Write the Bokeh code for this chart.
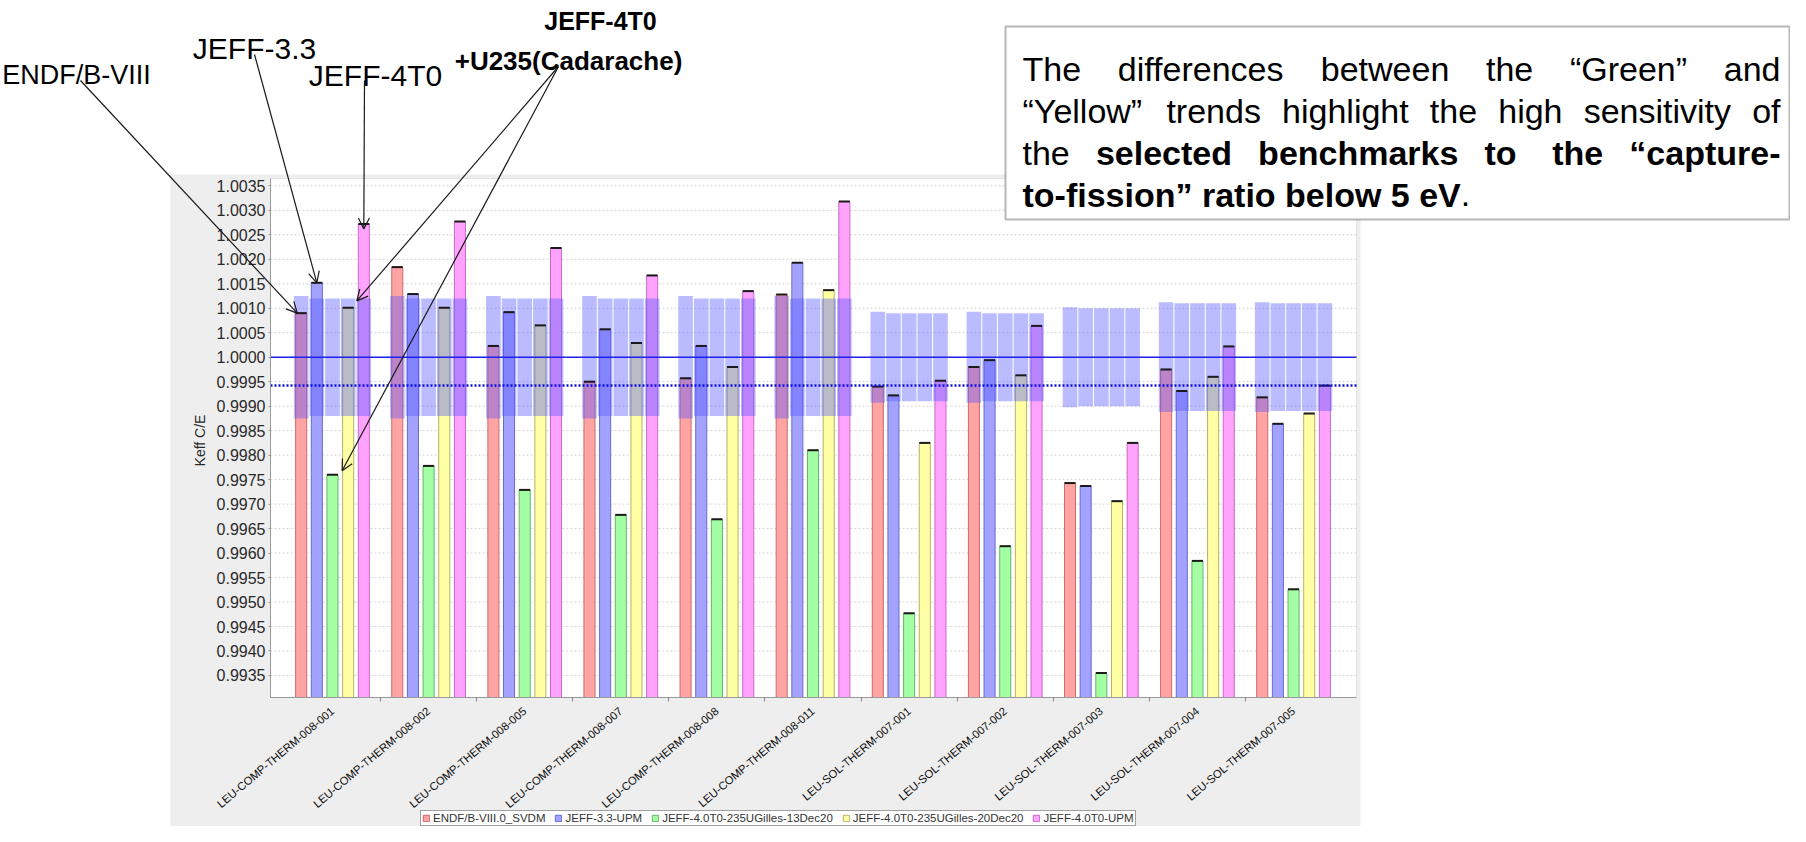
import math
import numpy as np
from bokeh.plotting import figure
from bokeh.models import (Range1d, FixedTicker, NumeralTickFormatter, Legend, LegendItem,
                          BoxAnnotation, Label, Arrow, OpenHead, ColumnDataSource)
from bokeh.embed import file_html
from bokeh.resources import INLINE

# ---------------- data ----------------
categories = ["LEU-COMP-THERM-008-001", "LEU-COMP-THERM-008-002", "LEU-COMP-THERM-008-005",
              "LEU-COMP-THERM-008-007", "LEU-COMP-THERM-008-008", "LEU-COMP-THERM-008-011",
              "LEU-SOL-THERM-007-001", "LEU-SOL-THERM-007-002", "LEU-SOL-THERM-007-003",
              "LEU-SOL-THERM-007-004", "LEU-SOL-THERM-007-005"]
series_names = ["ENDF/B-VIII.0_SVDM", "JEFF-3.3-UPM", "JEFF-4.0T0-235UGilles-13Dec20",
                "JEFF-4.0T0-235UGilles-20Dec20", "JEFF-4.0T0-UPM"]
endf_b8 = [1.00090, 1.00184, 1.00023, 0.99950, 0.99957, 1.00128, 0.99940, 0.99980, 0.99743, 0.99975, 0.99918]
jeff33 = [1.00152, 1.00129, 1.00092, 1.00057, 1.00023, 1.00193, 0.99922, 0.99994, 0.99737, 0.99931, 0.99864]
jeff4_13dec = [0.99760, 0.99778, 0.99729, 0.99678, 0.99669, 0.99810, 0.99477, 0.99614, 0.99355, 0.99584, 0.99526]
jeff4_20dec = [1.00101, 1.00101, 1.00065, 1.00029, 0.99980, 1.00137, 0.99825, 0.99963, 0.99706, 0.99960, 0.99885]
jeff4_upm = [1.00272, 1.00277, 1.00223, 1.00167, 1.00135, 1.00318, 0.99952, 1.00064, 0.99825, 1.00022, 0.99942]
series_values = [endf_b8, jeff33, jeff4_13dec, jeff4_20dec, jeff4_upm]
# benchmark uncertainty bands (around C/E = 1)
unc_endf = [0.00125, 0.00125, 0.00125, 0.00125, 0.00125, 0.00125, 0.00093, 0.00093, 0.00102, 0.00112, 0.00112]
unc_other = [0.00120, 0.00120, 0.00120, 0.00120, 0.00120, 0.00120, 0.00090, 0.00090, 0.00100, 0.00110, 0.00110]
reference_ce = 1.0
mean_ce = 0.99942
y_ticks = [0.9935, 0.9940, 0.9945, 0.9950, 0.9955, 0.9960, 0.9965, 0.9970, 0.9975, 0.9980, 0.9985,
           0.9990, 0.9995, 1.0000, 1.0005, 1.0010, 1.0015, 1.0020, 1.0025, 1.0030, 1.0035]

# ---------------- layout / styles ----------------
fills = ["#FFA3A3", "#A3A3FF", "#A3FFA3", "#FFFFA3", "#FFA3FF"]
lines = ["#D06A6A", "#6A6AD0", "#6AB46A", "#B4B46A", "#C46AC4"]
FONT = "Liberation Sans"

W, H = 1790, 826
PL, PT, PR, PB = 270, 178, 1356, 697          # plot area in canvas pixels
XLO, XHI = -0.645, 10.655                      # category axis extent
YLO, YHI = 0.99305, 1.00365                    # value axis extent
sx = (XHI - XLO) / (PR - PL)
sy = (YHI - YLO) / (PB - PT)

p = figure(width=W, height=H, output_backend="svg", toolbar_location=None,
           x_range=Range1d(XLO - PL * sx, XHI + (W - PR) * sx),
           y_range=Range1d(YLO - (H - PB) * sy, YHI + PT * sy),
           min_border=0, min_border_left=0, min_border_right=0, min_border_top=0, min_border_bottom=0,
           background_fill_color="white", border_fill_color="white", outline_line_color=None)
p.grid.visible = False

def cbox(l, r, t, b, **kw):
    return BoxAnnotation(left=l, right=r, top=t, bottom=b, left_units="canvas", right_units="canvas",
                         top_units="canvas", bottom_units="canvas", **kw)

# grey chart panel and white plot area
p.add_layout(cbox(170, 1360, 174, H, fill_color="#EEEEEE", fill_alpha=1, line_color=None, level="image"))
p.add_layout(cbox(PL, PR, PT, PB, fill_color="white", fill_alpha=1, line_color="#B8B8B8",
                  line_width=1, level="image"))

# dotted horizontal grid lines
p.segment(x0=XLO, x1=XHI, y0=y_ticks, y1=y_ticks, line_color="#D4D4D4", line_width=1, line_dash="2 2")

pitch = 0.163
bar_w = 0.115
band_w = 0.152
idx = np.arange(len(categories))
renderers = []
xs_all = []
for k, vals in enumerate(series_values):
    xs = idx + (k - 2) * pitch
    xs_all.append(xs)
    src = ColumnDataSource(dict(x=xs, top=vals))
    r = p.vbar(x="x", top="top", bottom=YLO, width=bar_w, source=src,
               fill_color=fills[k], line_color=lines[k], line_width=1)
    renderers.append(r)

# uncertainty bands drawn over the bars
for k in range(5):
    unc = np.array(unc_endf if k == 0 else unc_other)
    xs = xs_all[k]
    p.quad(left=xs - band_w / 2, right=xs + band_w / 2, top=reference_ce + unc, bottom=reference_ce - unc,
           fill_color="#5555FF", fill_alpha=0.40, line_color=None)

# black caps on bar tops
for k, vals in enumerate(series_values):
    xs = xs_all[k]
    p.segment(x0=xs - bar_w / 2, x1=xs + bar_w / 2, y0=vals, y1=vals, line_color="#1A1A1A", line_width=2)

p.segment(x0=[XLO], x1=[XHI], y0=[reference_ce], y1=[reference_ce], line_color="#2020F0", line_width=1.5)
p.segment(x0=[XLO], x1=[XHI], y0=[mean_ce], y1=[mean_ce], line_color="#1010E0", line_width=2.5,
          line_dash="2 2")

# axes (fixed inside the full-canvas frame)
p.yaxis.fixed_location = XLO
p.yaxis.bounds = (YLO, YHI)
p.yaxis.ticker = FixedTicker(ticks=y_ticks)
p.yaxis.formatter = NumeralTickFormatter(format="0.0000")
p.yaxis.major_label_text_font = FONT
p.yaxis.major_label_text_font_size = "16px"
p.yaxis.major_label_text_color = "#2A2A2A"
p.yaxis.axis_line_color = "#999999"
p.yaxis.major_tick_line_color = "#999999"
p.yaxis.major_tick_out = 2
p.yaxis.major_tick_in = 0
p.yaxis.minor_tick_line_color = None
p.yaxis.major_label_standoff = 3

p.xaxis.fixed_location = YLO
p.xaxis.bounds = (XLO, XHI)
p.xaxis.ticker = FixedTicker(ticks=list(idx), minor_ticks=[i + 0.5 for i in range(len(categories) - 1)])
p.xaxis.major_label_overrides = {int(i): c for i, c in zip(idx, categories)}
p.xaxis.major_label_orientation = 0.70
p.xaxis.major_tick_line_color = None
p.xaxis.minor_tick_out = 4
p.xaxis.minor_tick_in = 0
p.xaxis.minor_tick_line_color = "#888888"
p.xaxis.axis_line_color = "#999999"
p.xaxis.major_label_text_font = FONT
p.xaxis.major_label_text_font_size = "11.3px"
p.xaxis.major_label_text_color = "#111111"
p.xaxis.major_label_standoff = 6

p.add_layout(Label(x=199, y=440, x_units="canvas", y_units="canvas", text="Keff C/E",
                   angle=math.pi / 2, text_font=FONT, text_font_size="14px", text_color="#2A2A2A",
                   text_align="center", text_baseline="middle"))

legend = Legend(items=[LegendItem(label=n, renderers=[r]) for n, r in zip(series_names, renderers)],
                orientation="horizontal", location=(420, 0), label_text_font=FONT,
                label_text_font_size="11.5px", label_text_color="#333333", glyph_width=8, glyph_height=8,
                label_height=9, label_standoff=3, spacing=9, padding=1, margin=0,
                border_line_color="#444444", background_fill_color="white", background_fill_alpha=1)
p.add_layout(legend, "center")

# ---------------- annotations ----------------
def lab(text, x, y, size, bold=False, align="center", level="annotation"):
    p.add_layout(Label(x=x, y=y, x_units="canvas", y_units="canvas", text=text,
                       text_font=FONT, text_font_size=size,
                       text_font_style="bold" if bold else "normal", text_color="black",
                       text_align=align, text_baseline="alphabetic", level=level))

lab("ENDF/B-VIII", 76, 74, "27px")
lab("JEFF-3.3", 254, 48, "30px")
lab("JEFF-4T0", 375, 75, "30px")
lab("JEFF-4T0", 600, 20, "25px", bold=True)
lab("+U235(Cadarache)", 568, 60, "26px", bold=True)

def arrow(xs, ys, xe, ye):
    p.add_layout(Arrow(end=OpenHead(size=11, line_width=1.2, line_color="#1A1A1A"),
                       x_start=xs, y_start=ys, start_units="canvas",
                       x_end=xe, y_end=ye, end_units="data",
                       line_color="#1A1A1A", line_width=1.2))

arrow(80, 80, xs_all[0][0] - 0.04, endf_b8[0])
arrow(254, 54, xs_all[1][0], jeff33[0])
arrow(364, 80, xs_all[4][0], jeff4_upm[0] - 0.0001)
arrow(558, 66, xs_all[3][0] + 0.09, jeff4_20dec[0] + 0.00014)
arrow(558, 66, xs_all[2][0] + 0.10, jeff4_13dec[0] + 0.00008)

# text box
p.add_layout(cbox(1005, 1789, 26, 219, fill_color="white", fill_alpha=1, line_color="#111111",
                  line_width=2, level="overlay"))

REG = {' ': 278, '“': 333, '”': 333, '-': 333, '.': 278, '5': 556,
       'a': 556, 'b': 556, 'c': 500, 'd': 556, 'e': 556, 'f': 278, 'g': 556, 'h': 556, 'i': 222,
       'k': 500, 'l': 222, 'm': 833, 'n': 556, 'o': 556, 'p': 556, 'r': 333, 's': 500, 't': 278,
       'u': 556, 'v': 500, 'w': 722, 'y': 500, 'T': 611, 'G': 778, 'Y': 667, 'V': 667}
BLD = {' ': 278, '“': 500, '”': 500, '-': 333, '.': 278, '5': 556,
       'a': 556, 'b': 611, 'c': 556, 'd': 611, 'e': 556, 'f': 333, 'g': 611, 'h': 611, 'i': 278,
       'k': 556, 'l': 278, 'm': 889, 'n': 611, 'o': 611, 'p': 611, 'r': 389, 's': 556, 't': 333,
       'u': 611, 'v': 556, 'w': 778, 'y': 556, 'T': 611, 'G': 778, 'Y': 667, 'V': 667}
BOX_FS = 34

def tw(s, bold):
    tbl = BLD if bold else REG
    return sum(tbl.get(c, 556) for c in s) * BOX_FS / 1000.0

X0, X1 = 1022, 1780

def justified(words, y):
    widths = [tw(w, b) for w, b, _ in words]
    gaps = [g for _, _, g in words[1:]]
    free = (X1 - X0) - sum(widths)
    base = sum(gaps) * tw(" ", False)
    extra = (free - base) / len(gaps)
    x = X0
    for i, (w, b, g) in enumerate(words):
        if i > 0:
            x += g * tw(" ", False) + extra
        lab(w, x, y, f"{BOX_FS}px", bold=b, align="left", level="overlay")
        x += widths[i]

justified([("The", False, 0), ("differences", False, 1), ("between", False, 1), ("the", False, 1),
           ("“Green”", False, 1), ("and", False, 1)], 68)
justified([("“Yellow”", False, 0), ("trends", False, 1), ("highlight", False, 1), ("the", False, 1),
           ("high", False, 1), ("sensitivity", False, 1), ("of", False, 1)], 110)
justified([("the", False, 0), ("selected", True, 1), ("benchmarks", True, 1), ("to", True, 1),
           ("the", True, 2), ("“capture-", True, 1)], 152)
last = "to-fission” ratio below 5 eV"
lab(last, X0, 194, f"{BOX_FS}px", bold=True, align="left", level="overlay")
lab(".", X0 + tw(last, True), 194, f"{BOX_FS}px", bold=False, align="left", level="overlay")

open("out.html", "w", encoding="utf-8").write(file_html(p, INLINE))
